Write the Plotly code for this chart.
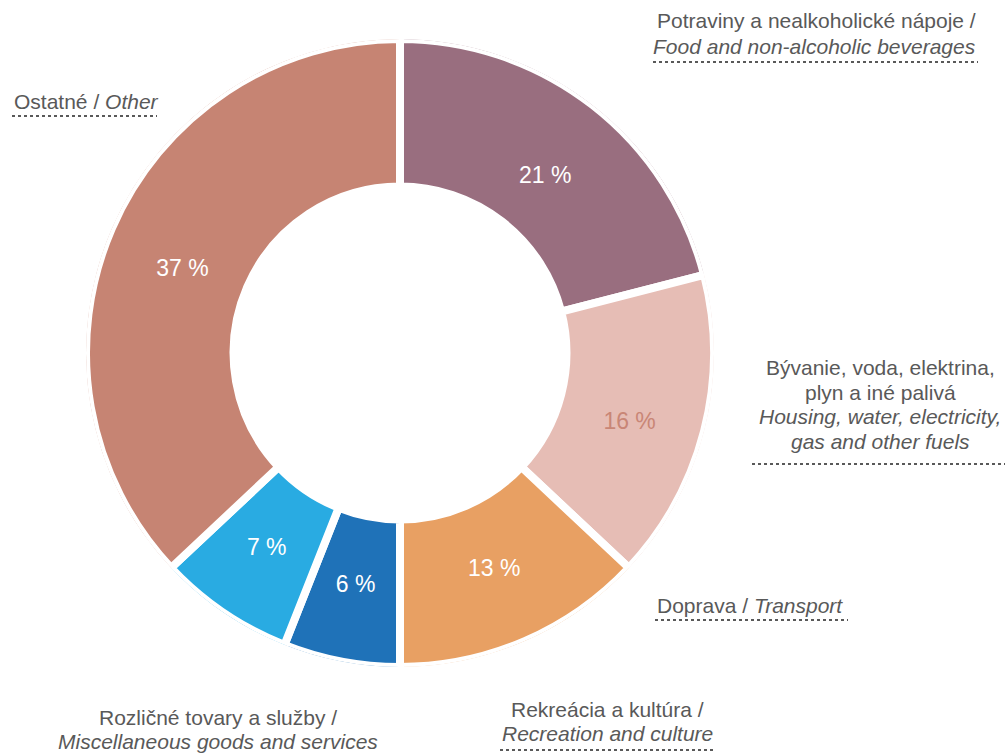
import numpy as np
import plotly.graph_objects as go

# ---- data ----
# clockwise order from 12 o'clock
slice_names = ["Potraviny a nealkoholické nápoje", "Bývanie, voda, elektrina, plyn a iné palivá",
               "Doprava", "Rekreácia a kultúra", "Rozličné tovary a služby", "Ostatné"]
values = [21, 16, 13, 6, 7, 37]
colors = ["#996e7f", "#e6bdb5", "#e8a063", "#1f72b8", "#29abe2", "#c68473"]
text_colors = ["white", "#c98676", "white", "white", "white", "white"]
text_positions = ["bottom center", "bottom center", "middle center",
                  "middle center", "middle center", "bottom center"]

W, H = 1007, 755
GRAY = "#595959"
FONT = "Liberation Sans, Arial, sans-serif"
DOMAIN = dict(x=[86 / W, 714 / W], y=[1 - 667 / H, 1 - 39 / H])
HOLE = 0.53

vals = np.array(values, dtype=float)
widths = vals / vals.sum() * 360.0
mid_theta = np.cumsum(widths) - widths / 2

fig = go.Figure()
# donut slices drawn on the polar scale: angular width proportional to value
fig.add_trace(go.Barpolar(
    r=[1 - HOLE] * len(values),
    base=[HOLE] * len(values),
    theta=mid_theta,
    width=widths,
    marker=dict(color=colors, line=dict(color="white", width=8)),
    hovertext=slice_names,
    hoverinfo="text",
    showlegend=False,
))
# percentage labels in the middle of each slice
fig.add_trace(go.Scatterpolar(
    r=[0.755] * len(values),
    theta=mid_theta,
    mode="text",
    text=[f"{v} %" for v in values],
    textposition=text_positions,
    textfont=dict(family=FONT, size=23, color=text_colors),
    hoverinfo="skip",
    showlegend=False,
))


def px(x):
    return x / W


def py(y):
    return 1 - y / H


# label blocks: lines (html), x pixel, anchor, y pixel centers, underline (x0, x1, y) or None
label_blocks = [
    (["Potraviny a nealkoholické nápoje /", "<i>Food and non-alcoholic beverages</i>"],
     978, "right", [21, 46], (653, 978, 62)),
    (["Bývanie, voda, elektrina,", "plyn a iné palivá", "<i>Housing, water, electricity,</i>",
      "<i>gas and other fuels</i>"],
     880, "center", [368, 392, 416, 441], (752, 1005, 464)),
    (["Ostatné / <i>Other</i>"], 12, "left", [101], (12, 157, 116)),
    (["Doprava / <i>Transport</i>"], 655, "left", [605], (655, 848, 620)),
    (["Rekreácia a kultúra /", "<i>Recreation and culture</i>"],
     607, "center", [709, 733], (500, 714, 750)),
    (["Rozličné tovary a služby /", "<i>Miscellaneous goods and services</i>"],
     218, "center", [717, 741], None),
]

annotations = []
shapes = []
for lines, x, anchor, ys, ul in label_blocks:
    for line, y in zip(lines, ys):
        annotations.append(dict(
            x=px(x), y=py(y), xref="paper", yref="paper",
            text=line, showarrow=False, xanchor=anchor, yanchor="middle",
            font=dict(family=FONT, size=21, color=GRAY),
        ))
    if ul is not None:
        x0, x1, yy = ul
        shapes.append(dict(
            type="line", xref="paper", yref="paper",
            x0=px(x0), x1=px(x1), y0=py(yy), y1=py(yy),
            line=dict(color=GRAY, width=2, dash="dot"),
        ))

fig.update_layout(
    width=W, height=H,
    margin=dict(l=0, r=0, t=0, b=0),
    paper_bgcolor="white",
    plot_bgcolor="white",
    annotations=annotations,
    shapes=shapes,
    font=dict(family=FONT, color=GRAY),
    polar=dict(
        domain=DOMAIN,
        bgcolor="rgba(0,0,0,0)",
        bargap=0,
        radialaxis=dict(range=[0, 1], visible=False, showgrid=False, showline=False),
        angularaxis=dict(rotation=90, direction="clockwise", visible=False,
                         showgrid=False, showline=False),
    ),
)

fig.write_html("out.html", config={"displayModeBar": False},
               post_script="document.body.style.margin='0';document.body.style.overflow='hidden';")
